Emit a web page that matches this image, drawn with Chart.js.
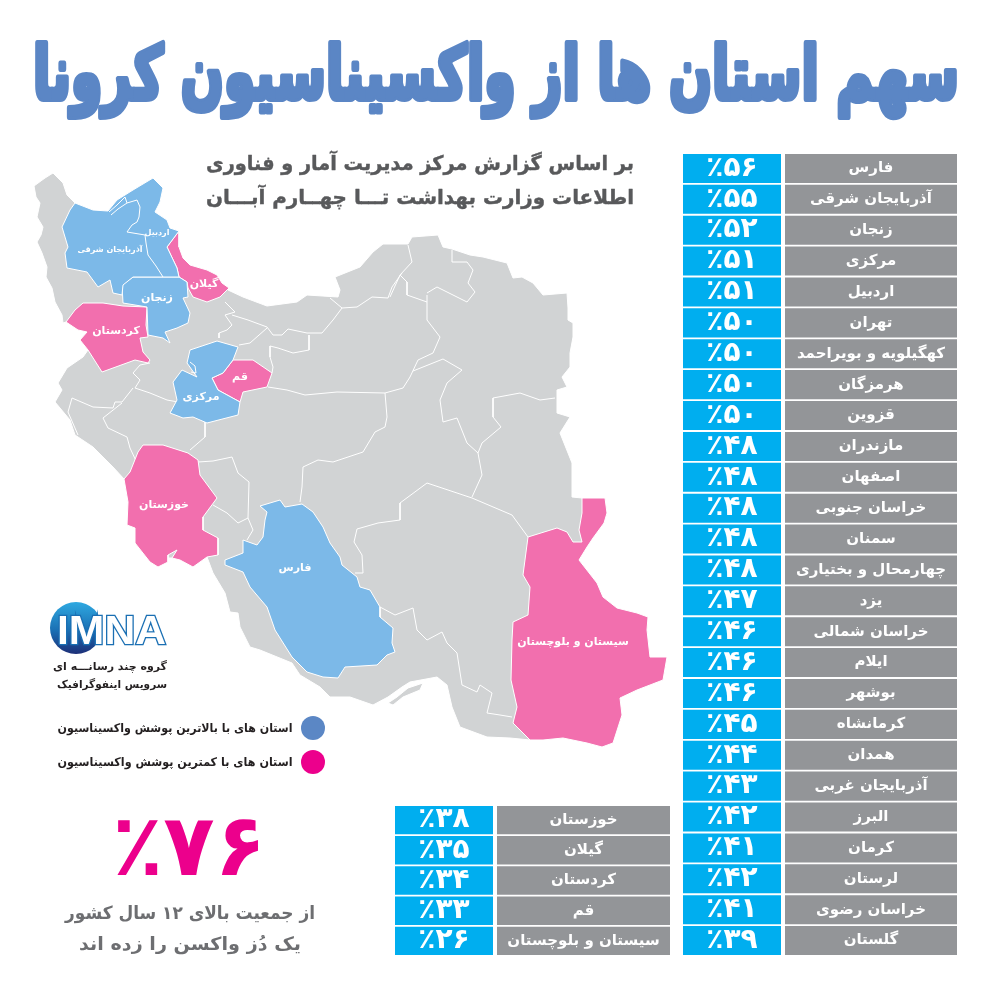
<!DOCTYPE html>
<html lang="fa"><head><meta charset="utf-8">
<script src="https://cdn.jsdelivr.net/npm/chart.js@4"></script>
<style>html,body{margin:0;padding:0;background:#fff;width:1000px;height:1000px;overflow:hidden}canvas{position:absolute}</style>
</head><body>
<canvas id="map" width="1000" height="1000" style="left:0;top:0"></canvas>
<canvas id="top" width="274" height="803" style="left:683px;top:153px"></canvas>
<canvas id="low" width="275" height="151" style="left:395px;top:805px"></canvas>
<script>
const highestNames=["فارس","آذربایجان شرقی","زنجان","مرکزی","اردبیل","تهران","کهگیلویه و بویراحمد","هرمزگان","قزوین","مازندران","اصفهان","خراسان جنوبی","سمنان","چهارمحال و بختیاری","یزد","خراسان شمالی","ایلام","بوشهر","کرمانشاه","همدان","آذربایجان غربی","البرز","کرمان","لرستان","خراسان رضوی","گلستان"];
const highestValues=[56,55,52,51,51,50,50,50,50,48,48,48,48,48,47,46,46,46,45,44,43,42,41,42,41,39];
const lowestNames=["خوزستان","گیلان","کردستان","قم","سیستان و بلوچستان"];
const lowestValues=[38,35,34,33,26];
const titleText="سهم استان ها از واکسیناسیون کرونا";
const subtitleLines=["بر اساس گزارش مرکز مدیریت آمار و فناوری","اطلاعات وزارت بهداشت تـــا چهــارم آبـــان"];
const legendLabels=["استان های با بالاترین پوشش واکسیناسیون","استان های با کمترین پوشش واکسیناسیون"];
const headlineValue=76;
const headlineLines=["از جمعیت بالای ۱۲ سال کشور","یک دُز واکسن را زده اند"];
const logoLines=["گروه چند رسانـــه ای","سرویس اینفوگرافیک"];

const iranOutline=[[53,173],[45,178],[34,186],[36,197],[40,203],[37,217],[43,227],[41,235],[37,242],[42,253],[47,267],[46,277],[52,288],[55,302],[62,315],[63,323],[66,322],[78,330],[87,332],[80,340],[88,350],[83,357],[67,368],[58,383],[62,390],[55,402],[70,420],[75,435],[93,447],[113,467],[124,479],[128,502],[127,525],[135,528],[135,543],[150,562],[158,567],[168,558],[172,558],[180,560],[193,567],[207,557],[213,573],[225,593],[230,612],[238,613],[240,627],[250,647],[260,650],[292,663],[300,675],[320,687],[330,697],[350,697],[373,705],[388,697],[402,687],[410,682],[437,677],[447,685],[452,707],[460,727],[487,737],[510,738],[530,740],[543,740],[563,738],[587,743],[602,747],[613,743],[622,715],[620,698],[637,690],[663,680],[667,657],[650,657],[647,630],[648,617],[637,613],[617,608],[603,597],[597,583],[579,560],[587,547],[593,538],[604,523],[607,513],[605,498],[582,498],[572,497],[572,463],[560,433],[570,417],[557,413],[557,390],[567,387],[562,377],[570,367],[570,353],[573,337],[573,323],[568,320],[568,308],[567,293],[543,295],[533,283],[522,277],[513,278],[507,263],[483,257],[470,255],[452,249],[443,247],[438,235],[412,237],[408,244],[383,244],[373,252],[360,267],[340,275],[335,277],[340,290],[338,297],[307,295],[297,302],[267,306],[243,297],[228,290],[222,283],[217,275],[207,270],[190,265],[183,258],[179,247],[179,231],[170,228],[167,220],[155,212],[160,202],[163,188],[153,178],[133,190],[117,200],[108,211],[93,210],[75,203],[67,195],[63,183],[53,173]];
const qeshmIsland=[[388,703],[397,697],[408,688],[423,683],[420,690],[403,697],[393,705],[388,703]];
const azerbaijanArdabil=[[75,203],[93,210],[108,211],[117,200],[133,190],[153,178],[163,188],[160,202],[155,212],[167,220],[170,228],[179,231],[167,247],[177,268],[179,277],[163,277],[133,277],[123,285],[122,295],[113,293],[110,280],[98,287],[87,272],[67,268],[65,253],[68,247],[62,227],[70,210],[75,203]];
const zanjan=[[133,277],[163,277],[179,277],[187,282],[188,297],[183,298],[190,313],[188,323],[177,328],[165,332],[170,343],[163,338],[148,335],[147,307],[123,303],[122,285],[133,277]];
const gilan=[[179,231],[179,247],[183,258],[190,265],[207,270],[217,275],[222,283],[229,288],[220,297],[207,302],[193,297],[188,288],[187,282],[179,277],[177,268],[167,247],[179,231]];
const kurdistan=[[83,303],[103,303],[123,306],[147,307],[146,325],[148,337],[140,338],[143,352],[150,360],[148,363],[135,360],[102,372],[88,350],[80,340],[87,332],[78,330],[66,322],[75,310],[83,303]];
const markazi=[[190,350],[217,341],[238,347],[233,360],[223,373],[212,378],[218,390],[240,402],[238,415],[207,423],[193,417],[183,418],[170,413],[177,400],[173,382],[182,370],[197,377],[187,363],[190,350]];
const qom=[[233,360],[253,360],[272,373],[267,387],[243,392],[240,402],[218,390],[212,378],[223,373],[233,360]];
const khuzestan=[[143,445],[163,445],[188,453],[198,460],[200,475],[217,498],[203,517],[203,530],[218,538],[218,555],[207,557],[193,567],[180,560],[172,558],[177,550],[168,555],[168,562],[158,567],[150,562],[135,543],[135,528],[127,525],[128,502],[124,479],[130,472],[138,452],[143,445]];
const fars=[[260,506],[280,500],[285,507],[302,504],[313,512],[323,527],[330,543],[340,557],[342,565],[357,577],[360,587],[370,590],[380,607],[380,617],[393,628],[392,643],[395,652],[387,655],[377,665],[345,667],[338,678],[323,677],[307,672],[292,657],[275,630],[267,607],[250,587],[243,572],[225,565],[225,560],[243,553],[243,540],[257,545],[263,537],[265,520],[267,512],[260,506]];
const sistan=[[582,498],[605,498],[607,513],[604,523],[593,538],[587,547],[579,560],[597,583],[603,597],[617,608],[637,613],[648,617],[647,630],[650,657],[667,657],[663,680],[637,690],[620,698],[622,715],[613,743],[602,747],[587,743],[563,738],[543,740],[530,740],[513,723],[517,707],[511,680],[512,640],[513,622],[528,615],[530,587],[523,575],[528,537],[557,528],[567,532],[573,542],[582,542],[579,530],[582,513],[582,498]];
const borderLines=[
[[225,302],[235,312],[225,315],[232,325],[227,330],[219,333],[219,338]],
[[232,315],[248,320],[267,327],[273,335],[282,335],[288,329],[307,333],[322,333],[333,320],[342,308],[357,307],[372,297],[388,298],[392,287],[402,273]],
[[342,308],[330,298]],
[[267,328],[250,343],[239,345]],
[[309,335],[309,350],[293,353],[278,348],[270,346],[270,357],[273,367],[272,373]],
[[268,387],[287,390],[305,395],[337,392],[385,393],[403,388],[410,377],[418,360],[433,353],[440,337],[427,320],[427,295]],
[[385,393],[387,417],[385,427],[375,432],[363,452],[333,462],[318,460],[303,467],[302,487],[300,502]],
[[205,422],[205,437],[190,450]],
[[198,462],[213,461],[232,457],[238,473],[249,482],[248,518],[253,530],[247,540]],
[[213,505],[227,513],[238,523],[248,518]],
[[408,245],[412,262],[400,275],[390,297]],
[[400,275],[407,282],[407,295],[427,302]],
[[427,293],[437,287],[467,302],[475,292],[468,283],[473,270],[467,262],[452,262],[452,250]],
[[413,371],[443,359],[462,370],[447,383],[440,400],[443,422],[457,418],[467,443],[478,453]],
[[555,398],[540,400],[520,393],[493,398],[493,417],[501,427],[482,443],[478,453],[482,475],[472,497]],
[[427,483],[472,498],[512,515],[528,537]],
[[427,483],[400,503],[400,520],[378,523],[357,529],[354,542],[362,555],[363,573],[355,573]],
[[380,607],[395,615],[413,608],[417,630],[427,640],[442,632],[447,643],[457,653],[462,685],[477,692],[480,685],[492,693],[487,713],[500,715],[512,717]],
[[178,402],[167,400],[150,393],[135,388],[140,380],[133,373],[140,365],[150,363]],
[[133,388],[122,402],[115,402],[113,408],[93,407],[72,398],[68,412],[78,435]],
[[122,403],[103,418],[108,428],[127,437],[130,448],[137,463]]
];
const ardabilBorders=[
[[109,212],[117,205],[125,197],[127,203],[118,209],[111,215]],
[[127,203],[137,200],[140,207],[139,217],[137,222],[132,225],[127,232],[145,235],[146,243],[148,255],[156,266],[163,277]],
[[190,362],[195,366],[196,373],[191,372]]
];
const provinceLabels=[
["آذربایجان شرقی",110,250,8],["اردبیل",157,233,8],["زنجان",157,298,11],["گیلان",204,284,11],["کردستان",116,331,11],["قم",240,377,11],["مرکزی",201,397,11],["خوزستان",164,505,11],["فارس",295,568,11],["سیستان و بلوچستان",573,642,11]
];

const FONT='"DejaVu Sans"';
const CELL_BLUE='#00aeef',CELL_GRAY='#939598',MAP_GRAY='#d1d3d4',MAP_BLUE='#7cb9e8',MAP_PINK='#f26fae';
const fa=n=>String(n).replace(/\d/g,d=>'۰۱۲۳۴۵۶۷۸۹'[d]);
const pct=n=>'٪'+fa(n);
const pts=a=>a.map(p=>({x:p[0],y:p[1]}));
function shape(name,a,color,order){return {label:name,data:pts(a),showLine:true,fill:'shape',backgroundColor:color,borderColor:'#ffffff',borderWidth:1,pointRadius:0,order:order,tension:0};}
function line(a,i,order){return {label:'border'+i,data:pts(a),showLine:true,fill:false,borderColor:'#ffffff',borderWidth:1,pointRadius:0,order:order,tension:0};}
function put(ctx,text,x,y,font,color,width,stroke,dir){
  ctx.save();ctx.font=font;ctx.direction=dir||'rtl';ctx.textAlign='center';ctx.textBaseline='middle';ctx.fillStyle=color;
  ctx.translate(x,y);
  if(width){const w=ctx.measureText(text).width;ctx.scale(width/w,1);}
  if(stroke){ctx.strokeStyle=color;ctx.lineWidth=stroke;ctx.lineJoin='round';ctx.strokeText(text,0,0);}
  ctx.fillText(text,0,0);ctx.restore();
}
const pagePlugin={id:'page',afterDatasetsDraw(c){
  const x=c.scales.x,y=c.scales.y,ctx=c.ctx,X=v=>x.getPixelForValue(v),Y=v=>y.getPixelForValue(v);
  provinceLabels.forEach(l=>put(ctx,l[0],X(l[1]),Y(l[2]),`bold ${l[3]}px ${FONT}`,'#ffffff'));
  put(ctx,titleText,X(496),Y(80),`bold 74px ${FONT}`,'#5b86c5',926,6);
  put(ctx,subtitleLines[0],X(420),Y(165),`bold 20px ${FONT}`,'#58595b',428,.4);
  put(ctx,subtitleLines[1],X(420),Y(199),`bold 20px ${FONT}`,'#58595b',428,.4);
  ctx.fillStyle='#5b87c5';ctx.beginPath();ctx.arc(X(313),Y(728),12,0,7);ctx.fill();
  ctx.fillStyle='#ec008c';ctx.beginPath();ctx.arc(X(313),Y(762),12,0,7);ctx.fill();
  put(ctx,legendLabels[0],X(175),Y(729),`bold 12px ${FONT}`,'#231f20',235);
  put(ctx,legendLabels[1],X(175),Y(763),`bold 12px ${FONT}`,'#231f20',235);
  put(ctx,pct(headlineValue),X(189),Y(853),`bold 86px ${FONT}`,'#ec008c',154,0,'ltr');
  put(ctx,headlineLines[0],X(190),Y(914),`bold 18px ${FONT}`,'#6d6e71',250);
  put(ctx,headlineLines[1],X(190),Y(945),`bold 18px ${FONT}`,'#6d6e71',222);
  const g=ctx.createLinearGradient(0,Y(602),0,Y(654));g.addColorStop(0,'#2fa9e1');g.addColorStop(.55,'#1a6fb3');g.addColorStop(1,'#1d2f78');
  ctx.fillStyle=g;ctx.beginPath();ctx.arc(X(76),Y(628),26,0,7);ctx.fill();
  ctx.save();ctx.font='bold 40px "Liberation Sans"';ctx.textAlign='left';ctx.textBaseline='alphabetic';ctx.direction='ltr';
  ctx.translate(X(57),Y(644));ctx.scale(109/ctx.measureText('IMNA').width,1);
  ctx.strokeStyle='#1a6fb3';ctx.lineWidth=2.5;ctx.strokeText('IMNA',0,0);ctx.fillStyle='#ffffff';ctx.fillText('IMNA',0,0);ctx.restore();
  put(ctx,logoLines[0],X(110),Y(667),`bold 11px ${FONT}`,'#231f20',114);
  put(ctx,logoLines[1],X(112),Y(685),`bold 11px ${FONT}`,'#231f20',110);
}};
new Chart(document.getElementById('map'),{type:'scatter',
  data:{datasets:[
    shape('ایران',iranOutline,MAP_GRAY,10),shape('قشم',qeshmIsland,MAP_GRAY,10),
    ...borderLines.map((a,i)=>line(a,i,5)),
    shape('آذربایجان شرقی و اردبیل',azerbaijanArdabil,MAP_BLUE,2),shape('زنجان',zanjan,MAP_BLUE,2),shape('مرکزی',markazi,MAP_BLUE,2),shape('فارس',fars,MAP_BLUE,2),
    shape('گیلان',gilan,MAP_PINK,2),shape('کردستان',kurdistan,MAP_PINK,2),shape('قم',qom,MAP_PINK,2),shape('خوزستان',khuzestan,MAP_PINK,2),shape('سیستان و بلوچستان',sistan,MAP_PINK,2),
    ...ardabilBorders.map((a,i)=>line(a,'a'+i,1))
  ]},
  options:{responsive:false,animation:false,layout:{padding:0},plugins:{legend:{display:false},tooltip:{enabled:false}},
    scales:{x:{type:'linear',display:false,min:0,max:1000},y:{type:'linear',display:false,reverse:true,min:0,max:1000}}},
  plugins:[pagePlugin]});

const cellLabels={id:'cells',afterDatasetsDraw(c){
  const ctx=c.ctx;
  const blue=c.getDatasetMeta(0).data,gray=c.getDatasetMeta(1).data;
  c.data.datasets[0].data.forEach((d,i)=>{
    put(ctx,pct(d.value),(blue[i].x+blue[i].base)/2,blue[i].y,`bold 28px ${FONT}`,'#ffffff',0,0,'ltr');
    put(ctx,d.y,(gray[i].x+gray[i].base)/2,gray[i].y,`bold 15px ${FONT}`,'#ffffff');
  });
}};
function table(id,names,values,maxX){
  new Chart(document.getElementById(id),{type:'bar',
    data:{labels:names,datasets:[
      {label:'درصد',data:names.map((n,i)=>({y:n,x:[0,98],value:values[i]})),backgroundColor:CELL_BLUE,barPercentage:.94,categoryPercentage:1,grouped:false},
      {label:'استان',data:names.map((n,i)=>({y:n,x:[102,maxX],value:values[i]})),backgroundColor:CELL_GRAY,barPercentage:.94,categoryPercentage:1,grouped:false}
    ]},
    options:{indexAxis:'y',responsive:false,animation:false,layout:{padding:0},plugins:{legend:{display:false},tooltip:{enabled:false}},
      scales:{x:{type:'linear',display:false,min:0,max:maxX},y:{type:'category',display:false,offset:true}}},
    plugins:[cellLabels]});
}
table('top',highestNames,highestValues,274);
table('low',lowestNames,lowestValues,275);
</script>
</body></html>
